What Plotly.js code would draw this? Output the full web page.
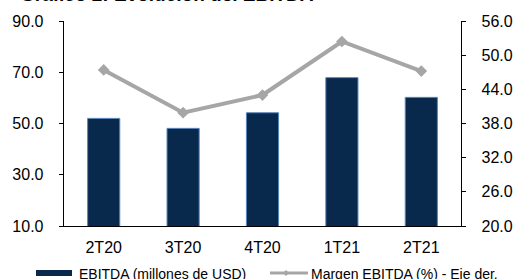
<!DOCTYPE html>
<html><head><meta charset="utf-8">
<script src="https://cdn.plot.ly/plotly-3.0.1.min.js"></script>
<style>html,body{margin:0;padding:0;background:#fff}#chart{width:515px;height:279px}</style>
</head><body><div id="chart"></div>
<script>
const categories = ["2T20","3T20","4T20","1T21","2T21"];
const ebitda = [52.0, 48.1, 54.2, 67.9, 60.2];
const margen = [47.4, 39.9, 43.0, 52.4, 47.2];
const leftTicks = [10, 30, 50, 70, 90];
const rightTicks = [20, 26, 32, 38, 44, 50, 56];
const titleText = "Gráfico 2: Evolución del EBITDA";
const barName = "EBITDA (millones de USD)";
const lineName = "Margen EBITDA (%) - Eje der.";

const F = "Liberation Sans, Arial, sans-serif";
const barColor = "#08294c";
const lineColor = "#a6a6a6";

const data = [
  {type:"bar", x:categories, y:ebitda, name:barName, yaxis:"y",
   marker:{color:barColor, line:{color:"#5b86bd", width:1}}, hoverinfo:"skip"},
  {type:"scatter", mode:"lines+markers", x:categories, y:margen, name:lineName, yaxis:"y2",
   line:{color:lineColor, width:4}, marker:{symbol:"diamond", size:9, color:lineColor}, hoverinfo:"skip"}
];

const layout = {
  width:515, height:279,
  margin:{l:64, r:54, t:21, b:53},
  paper_bgcolor:"#fff", plot_bgcolor:"#fff",
  showlegend:false,
  bargap:0.595,
  font:{family:F, size:16, color:"#000"},
  xaxis:{showline:true, linecolor:"#000", linewidth:1.3, ticks:"", showgrid:false, zeroline:false,
         tickfont:{family:F, size:16, color:"#000"}, ticklabelstandoff:6, fixedrange:true},
  yaxis:{range:[10,90], tickvals:leftTicks, tickformat:".1f", showline:true, linecolor:"#000", linewidth:1.3,
         ticks:"outside", ticklen:4, tickcolor:"#000", showgrid:false, zeroline:false,
         tickfont:{family:F, size:16, color:"#000"}, ticklabelstandoff:12},
  yaxis2:{range:[20,56], tickvals:rightTicks, tickformat:".1f", overlaying:"y", side:"right",
          showline:true, linecolor:"#000", linewidth:1.3, ticks:"outside", ticklen:4, tickcolor:"#000",
          showgrid:false, zeroline:false, tickfont:{family:F, size:16, color:"#000"}, ticklabelstandoff:12},
  annotations:[
    {text:"<b>"+titleText+"</b>", xref:"paper", yref:"paper", x:0, xshift:-46, y:1, yshift:14,
     xanchor:"left", yanchor:"bottom", showarrow:false, font:{family:F, size:19, color:"#000"}},
    {text:barName, xref:"paper", yref:"paper", x:0, xshift:13, y:0, yshift:-48,
     xanchor:"left", yanchor:"middle", showarrow:false, font:{family:F, size:14, color:"#000"}},
    {text:lineName, xref:"paper", yref:"paper", x:0, xshift:245, y:0, yshift:-48,
     xanchor:"left", yanchor:"middle", showarrow:false, font:{family:F, size:14, color:"#000"}}
  ],
  shapes:[
    {type:"rect", xref:"paper", yref:"paper", x0:0, x1:0, y0:0, y1:0,
     xsizemode:"pixel", ysizemode:"pixel", xanchor:0, yanchor:0,
     xref:"paper", yref:"paper"}
  ]
};
// legend swatches (pixel-positioned relative to paper origin)
layout.shapes = [
  {type:"rect", xref:"paper", yref:"paper", xsizemode:"pixel", ysizemode:"pixel", xanchor:0, yanchor:0,
   x0:-28, x1:8, y0:-44, y1:-50, fillcolor:barColor, line:{width:0}},
  {type:"line", xref:"paper", yref:"paper", xsizemode:"pixel", ysizemode:"pixel", xanchor:0, yanchor:0,
   x0:206, x1:244, y0:-47, y1:-47, line:{color:lineColor, width:3}},
  {type:"path", xref:"paper", yref:"paper", xsizemode:"pixel", ysizemode:"pixel", xanchor:0, yanchor:0,
   path:"M 222,-44 L 225,-47 L 222,-50 L 219,-47 Z", fillcolor:lineColor, line:{width:0}}
];
Plotly.newPlot("chart", data, layout, {displayModeBar:false, staticPlot:true});
</script></body></html>
